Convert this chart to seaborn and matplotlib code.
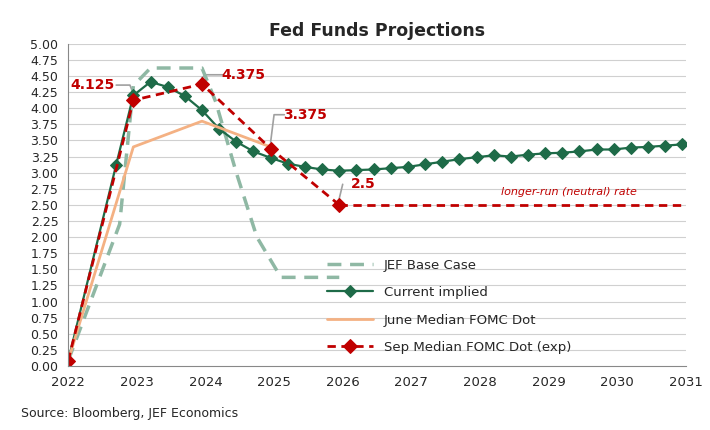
import numpy as np
import pandas as pd
import matplotlib.pyplot as plt
import seaborn as sns

# JEF base case
jef_x = [2022.0, 2022.75, 2022.95, 2023.2, 2023.95, 2024.15, 2024.45, 2024.75, 2025.1, 2025.95]
jef_y = [0.08, 2.2, 4.35, 4.625, 4.625, 4.1, 3.0, 2.0, 1.375, 1.375]

# Current implied (quarterly)
cur_x = [2022.0, 2022.7, 2022.95, 2023.2, 2023.45, 2023.7, 2023.95, 2024.2, 2024.45, 2024.7, 2024.95,
         2025.2, 2025.45, 2025.7, 2025.95, 2026.2, 2026.45, 2026.7, 2026.95, 2027.2, 2027.45, 2027.7,
         2027.95, 2028.2, 2028.45, 2028.7, 2028.95, 2029.2, 2029.45, 2029.7, 2029.95, 2030.2, 2030.45,
         2030.7, 2030.95]
cur_y = [0.08, 3.125, 4.2, 4.41, 4.33, 4.19, 3.97, 3.68, 3.48, 3.33, 3.23,
         3.14, 3.09, 3.05, 3.03, 3.04, 3.05, 3.07, 3.09, 3.13, 3.17, 3.21,
         3.24, 3.27, 3.25, 3.28, 3.3, 3.31, 3.33, 3.36, 3.36, 3.39, 3.4,
         3.42, 3.44]

# June median FOMC dot
jun_x = [2022.0, 2022.95, 2023.95, 2024.95]
jun_y = [0.08, 3.4, 3.8, 3.4]

# Sep median FOMC dot
sep_x = [2022.0, 2022.95, 2023.95, 2024.95, 2025.95]
sep_y = [0.08, 4.125, 4.375, 3.375, 2.5]
lr_x = [2025.95, 2031.0]
lr_y = [2.5, 2.5]

sns.set_style("white")
plt.rcParams['font.family'] = ['DejaVu Sans']
fig, ax = plt.subplots(figsize=(7.1, 4.3), dpi=100)

for yv in np.arange(0.25, 5.01, 0.25):
    ax.axhline(yv, color='#d0d0d0', lw=0.8, zorder=0)

sns.lineplot(x=jef_x, y=jef_y, ax=ax, color='#8fb8a4', lw=2.5, linestyle=(0, (4, 2.5)), label='JEF Base Case')
sns.lineplot(x=cur_x[1:], y=cur_y[1:], ax=ax, color='#1e6b48', lw=1.6, marker='D', markersize=6,
             markeredgecolor='#1e6b48', label='Current implied')
ax.plot(cur_x[:2], cur_y[:2], color='#1e6b48', lw=1.6)
sns.lineplot(x=jun_x, y=jun_y, ax=ax, color='#f4b183', lw=2, label='June Median FOMC Dot')
sns.lineplot(x=sep_x, y=sep_y, ax=ax, color='#c00000', lw=2, linestyle=(0, (3, 2)), marker='D',
             markersize=7, markeredgecolor='#c00000', label='Sep Median FOMC Dot (exp)')
ax.plot(lr_x, lr_y, color='#c00000', lw=2, linestyle=(0, (3, 2)))

# annotations: label position, leader elbow
notes = [(2022.95, 4.125, 2022.35, 4.36, '4.125', 'left'), (2023.95, 4.375, 2024.55, 4.52, '4.375', 'right'),
         (2024.95, 3.375, 2025.45, 3.9, '3.375', 'right'), (2025.95, 2.5, 2026.3, 2.82, '2.5', 'right')]
for x, y, tx, ty, t, side in notes:
    ex = x - 0.05 if side == 'left' else x + 0.05
    hx = tx + 0.35 if side == 'left' else tx - 0.3
    ax.plot([x, ex, hx], [y + 0.1, ty, ty], color='#a0a0a0', lw=1.2, zorder=1)
    ax.text(tx, ty, t, color='#c00000', fontweight='bold', fontsize=10, va='center', ha='center')
ax.text(2028.3, 2.65, 'longer-run (neutral) rate', color='#c00000', fontstyle='italic', fontsize=8)

ax.set_xlim(2022, 2031)
ax.set_ylim(0, 5.0)
ax.set_xticks(range(2022, 2032))
ax.set_yticks(np.arange(0, 5.01, 0.25))
ax.set_yticklabels([f'{v:.2f}' for v in np.arange(0, 5.01, 0.25)], fontsize=9)
ax.tick_params(axis='x', labelsize=9.5)
for s in ['top', 'right']:
    ax.spines[s].set_visible(False)
ax.spines['left'].set_color('#888888')
ax.spines['bottom'].set_color('#888888')
ax.set_title('Fed Funds Projections', fontweight='bold', fontsize=12.5)
ax.legend(loc='lower left', bbox_to_anchor=(0.4, 0.0), frameon=False, fontsize=9.5, handlelength=3.5,
          labelspacing=1.1)
fig.text(0.03, 0.03, 'Source: Bloomberg, JEF Economics', fontsize=9)
plt.subplots_adjust(left=0.096, right=0.966, top=0.898, bottom=0.149)
plt.savefig('out.png')
